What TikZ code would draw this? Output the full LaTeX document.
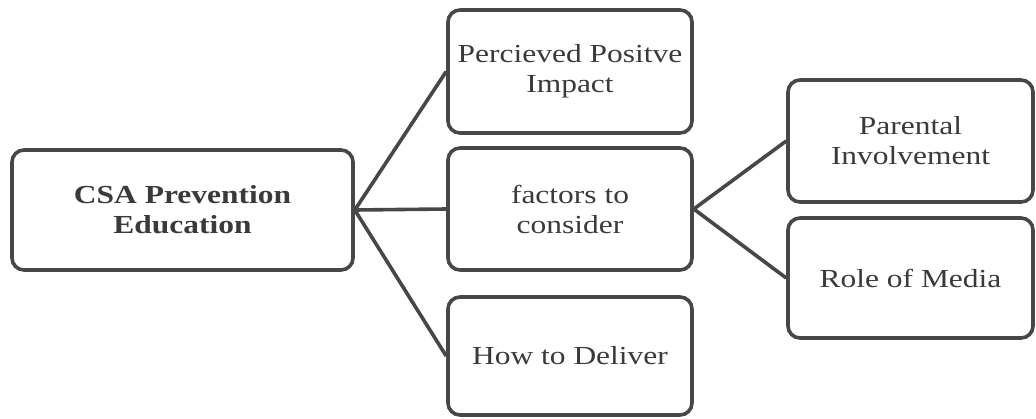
\documentclass[tikz,border=0pt]{standalone}
\usepackage{fontspec}
\usepackage{graphicx}
\setmainfont{Liberation Serif}
\definecolor{linegray}{HTML}{474747}
\definecolor{textgray}{HTML}{3A3A3A}
\newcommand{\sx}[1]{\scalebox{1.21}[1]{#1}}
\tikzset{
  box/.style={draw=linegray, line width=3.6pt, rounded corners=12pt, fill=white,
    text=textgray, align=center, inner sep=0pt,
    font=\fontsize{26}{30}\selectfont},
  link/.style={draw=linegray, line width=3.6pt}
}
\begin{document}
\begin{tikzpicture}[x=1pt, y=-1pt]
\useasboundingbox (0,0) rectangle (1036,418);
\node[box, minimum width=341pt, minimum height=120pt] (csa) at (182.5,210)
  {\bfseries\sx{CSA Prevention}\\\bfseries\sx{Education}};
\node[box, minimum width=244pt, minimum height=123pt] (imp) at (570,71.5)
  {\sx{Percieved Positve}\\\sx{Impact}};
\node[box, minimum width=244pt, minimum height=122pt] (fac) at (570,209)
  {\sx{factors to}\\\sx{consider}};
\node[box, minimum width=244pt, minimum height=118pt] (how) at (570,356)
  {\sx{How to Deliver}};
\node[box, minimum width=245pt, minimum height=122pt] (par) at (910.5,141)
  {\sx{Parental}\\\sx{Involvement}};
\node[box, minimum width=245pt, minimum height=120pt] (med) at (910.5,278)
  {\sx{Role of Media}};
\draw[link] (csa.east) -- (imp.west);
\draw[link] (csa.east) -- (fac.west);
\draw[link] (csa.east) -- (how.west);
\draw[link] (fac.east) -- (par.west);
\draw[link] (fac.east) -- (med.west);
\end{tikzpicture}
\end{document}
